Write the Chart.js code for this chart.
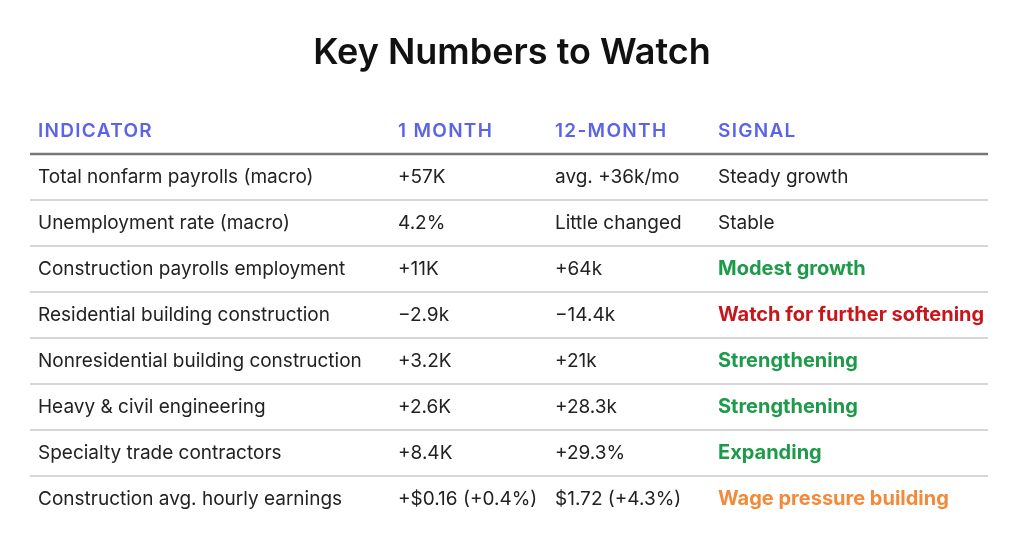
<!DOCTYPE html>
<html>
<head>
<meta charset="utf-8">
<script src="https://cdn.jsdelivr.net/npm/chart.js@4"></script>
<style>
  html, body { margin: 0; padding: 0; background: #fff; }
  #wrap { width: 1024px; height: 536px; }
</style>
</head>
<body>
<div id="wrap"><canvas id="tableChart"></canvas></div>
<script>
// Table content
const titleText = 'Key Numbers to Watch';
const headers = ['INDICATOR', '1 MONTH', '12-MONTH', 'SIGNAL'];
const indicators = [
    'Total nonfarm payrolls (macro)',
    'Unemployment rate (macro)',
    'Construction payrolls employment',
    'Residential building construction',
    'Nonresidential building construction',
    'Heavy & civil engineering',
    'Specialty trade contractors',
    'Construction avg. hourly earnings'
];
const oneMonth = ['+57K', '4.2%', '+11K', '\u22122.9k', '+3.2K', '+2.6K', '+8.4K', '+$0.16 (+0.4%)'];
const twelveMonth = ['avg. +36k/mo', 'Little changed', '+64k', '\u221214.4k', '+21k', '+28.3k', '+29.3%', '$1.72 (+4.3%)'];
const signals = ['Steady growth', 'Stable', 'Modest growth', 'Watch for further softening', 'Strengthening', 'Strengthening', 'Expanding', 'Wage pressure building'];
const signalTones = ['neutral', 'neutral', 'good', 'bad', 'good', 'good', 'good', 'warn'];

const toneColors = { neutral: '#222222', good: '#1e9a4b', bad: '#c8161d', warn: '#f28a3a' };
const columnX = [38, 398, 555, 718];
const FONT = 'Inter, Lato, "DejaVu Sans", sans-serif';

const tablePlugin = {
    id: 'tablePlugin',
    afterDraw(chart) {
        const ctx = chart.ctx;
        const x = chart.scales.x;
        const y = chart.scales.y;
        ctx.save();
        ctx.textBaseline = 'middle';

        // title
        ctx.fillStyle = '#111111';
        ctx.font = '600 36px ' + FONT;
        ctx.textAlign = 'center';
        ctx.fillText(titleText, 512, 53);

        ctx.textAlign = 'left';
        // header row
        ctx.fillStyle = '#5b63e8';
        ctx.font = '600 19px ' + FONT;
        if ('letterSpacing' in ctx) ctx.letterSpacing = '1.3px';
        headers.forEach((h, c) => ctx.fillText(h, x.getPixelForValue(columnX[c]), y.getPixelForValue(-1)));
        if ('letterSpacing' in ctx) ctx.letterSpacing = '0px';

        // header rule
        ctx.strokeStyle = '#777777';
        ctx.lineWidth = 2.5;
        ctx.beginPath();
        ctx.moveTo(x.getPixelForValue(30), y.getPixelForValue(-0.5));
        ctx.lineTo(x.getPixelForValue(988), y.getPixelForValue(-0.5));
        ctx.stroke();

        // rows
        indicators.forEach((name, i) => {
            const py = y.getPixelForValue(i);
            ctx.font = '400 19px ' + FONT;
            ctx.fillStyle = '#222222';
            ctx.fillText(name, x.getPixelForValue(columnX[0]), py);
            ctx.fillText(oneMonth[i], x.getPixelForValue(columnX[1]), py);
            ctx.fillText(twelveMonth[i], x.getPixelForValue(columnX[2]), py);
            const tone = signalTones[i];
            ctx.font = tone === 'neutral' ? '400 19px ' + FONT : '700 20px ' + FONT;
            ctx.fillStyle = toneColors[tone];
            ctx.fillText(signals[i], x.getPixelForValue(columnX[3]), py);

            if (i < indicators.length - 1) {
                ctx.strokeStyle = '#c8c8c8';
                ctx.lineWidth = 1.5;
                ctx.beginPath();
                ctx.moveTo(x.getPixelForValue(30), y.getPixelForValue(i + 0.5));
                ctx.lineTo(x.getPixelForValue(988), y.getPixelForValue(i + 0.5));
                ctx.stroke();
            }
        });
        ctx.restore();
    }
};

document.addEventListener('DOMContentLoaded', () => {
    const el = document.getElementById('tableChart');
    new Chart(el.getContext('2d'), {
        type: 'scatter',
        data: {
            datasets: [{
                data: indicators.map((_, i) => ({ x: columnX[0], y: i })),
                pointRadius: 0
            }]
        },
        options: {
            responsive: true,
            maintainAspectRatio: false,
            animation: false,
            layout: { padding: { top: 108, bottom: 14, left: 0, right: 0 } },
            plugins: { legend: { display: false }, tooltip: { enabled: false } },
            scales: {
                x: { type: 'linear', min: 0, max: 1024, display: false },
                y: { type: 'linear', min: -1.5, max: 7.5, reverse: true, display: false }
            }
        },
        plugins: [tablePlugin]
    });
});
</script>
</body>
</html>
